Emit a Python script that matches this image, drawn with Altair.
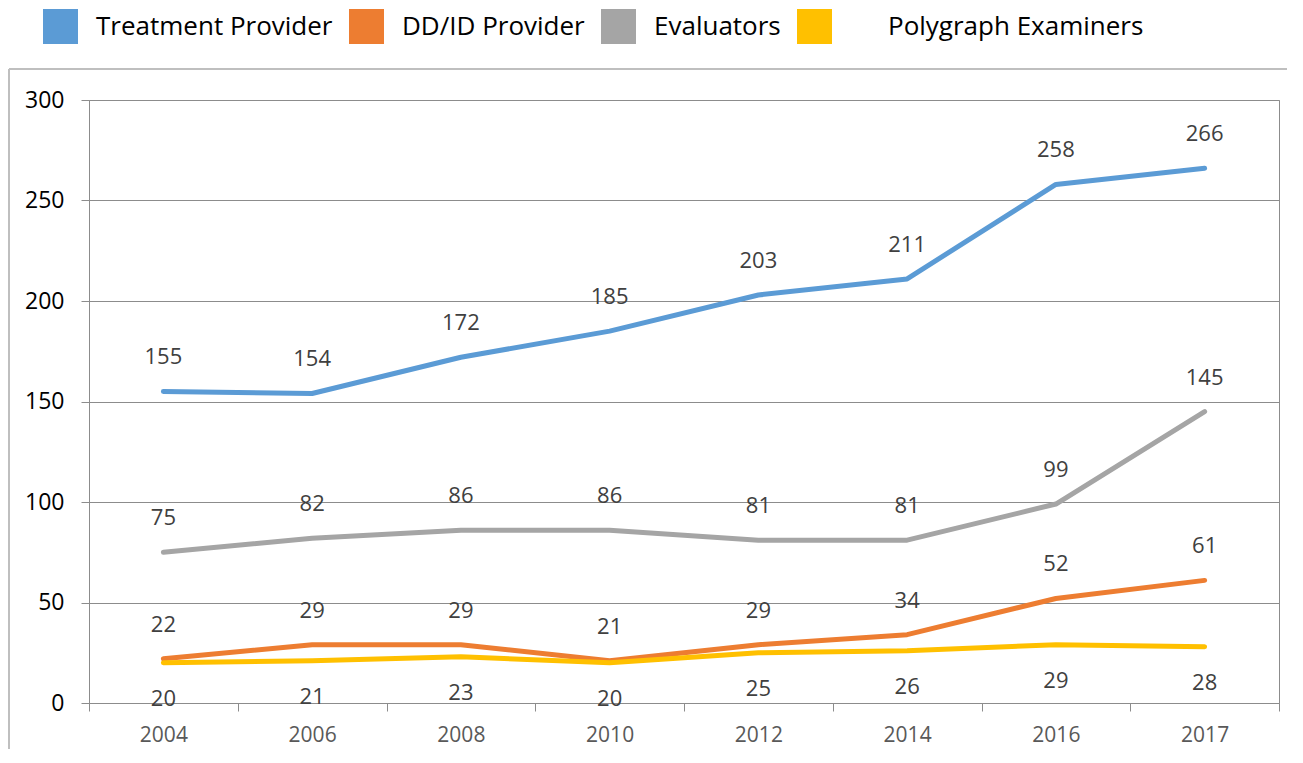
import altair as alt
import pandas as pd

years = ["2004", "2006", "2008", "2010", "2012", "2014", "2016", "2017"]
series = ["Treatment Provider", "DD/ID Provider", "Evaluators", "Polygraph Examiners"]
treatment = [155, 154, 172, 185, 203, 211, 258, 266]
ddid = [22, 29, 29, 21, 29, 34, 52, 61]
evaluators = [75, 82, 86, 86, 81, 81, 99, 145]
polygraph = [20, 21, 23, 20, 25, 26, 29, 28]
colors = ["#5B9BD5", "#ED7D31", "#A5A5A5", "#FFC000"]
y_ticks = [0, 50, 100, 150, 200, 250, 300]

rows = []
for s, vals in zip(series, [treatment, ddid, evaluators, polygraph]):
    for yr, v in zip(years, vals):
        rows.append({"year": yr, "series": s, "value": v})
df = pd.DataFrame(rows)

FONT = "Open Sans"
AX = "#8c8c8c"
W, H = 1190, 603
PAD = {"left": 81, "top": 92, "right": 10, "bottom": 48}

x_enc = alt.X(
    "year:O", sort=years, bandPosition=0.5,
    scale=alt.Scale(type="band", paddingInner=0, paddingOuter=0),
    axis=alt.Axis(title=None, tickBand="extent", labelAngle=0, grid=False,
                  domainColor=AX, tickColor=AX, tickSize=8,
                  labelFont=FONT, labelFontSize=21, labelColor="#595959",
                  labelPadding=13),
)
y_enc = alt.Y(
    "value:Q", scale=alt.Scale(domain=[0, 300], nice=False),
    axis=alt.Axis(title=None, values=y_ticks, grid=True, gridColor=AX,
                  domainColor=AX, tickColor=AX, tickSize=8,
                  labelFont=FONT, labelFontSize=23, labelColor="#000000",
                  labelPadding=17),
)
color_scale = alt.Scale(domain=series, range=colors)

base = alt.Chart(df)
one = pd.DataFrame({"a": [0]})

# outer chart-area frame (only its top and left edges are inside the picture)
right_edge = W + PAD["right"] - 2
bottom_edge = H + PAD["bottom"] - 2
frame_top = alt.Chart(one).mark_rule(stroke="#bfbfbf", strokeWidth=2).encode(
    x=alt.value(-80), x2=alt.value(right_edge), y=alt.value(-31))
frame_left = alt.Chart(one).mark_rule(stroke="#bfbfbf", strokeWidth=2).encode(
    x=alt.value(-80), y=alt.value(-31), y2=alt.value(bottom_edge))

legend_layer = base.mark_square(size=0, filled=True, opacity=1).encode(
    x=x_enc, y=y_enc,
    color=alt.Color("series:N", scale=color_scale, sort=series,
                    legend=alt.Legend(
                        orient="none", legendX=-46, legendY=-91,
                        direction="horizontal", title=None,
                        symbolType="square", symbolSize=1225,
                        symbolStrokeWidth=0, symbolOpacity=1,
                        labelFont=FONT, labelFontSize=26, labelColor="#000000",
                        labelOffset=18, columnPadding=16, labelLimit=400,
                        labelExpr="datum.label == 'Polygraph Examiners' ? '\u2800\u2800Polygraph Examiners' : datum.label",
                    )),
)

lines = base.mark_line(strokeWidth=5, strokeCap="round", strokeJoin="round").encode(
    x=x_enc, y=y_enc,
    color=alt.Color("series:N", scale=color_scale, sort=series, legend=None),
    order=alt.Order("year:O"),
)

labels_above = base.transform_filter(
    alt.datum.series != "Polygraph Examiners"
).mark_text(dy=-34, font=FONT, fontSize=22, color="#404040").encode(
    x=x_enc, y=y_enc, text="value:Q"
)
labels_below = base.transform_filter(
    alt.datum.series == "Polygraph Examiners"
).mark_text(dy=36, font=FONT, fontSize=22, color="#404040").encode(
    x=x_enc, y=y_enc, text="value:Q"
)

chart = alt.layer(frame_top, frame_left, legend_layer, lines, labels_above, labels_below).properties(
    width=W, height=H,
    padding=PAD,
    autosize=alt.AutoSizeParams(type="none"),
).configure_view(stroke=AX, strokeWidth=1)

chart.save("out.html", embed_options={"renderer": "svg", "actions": False})
